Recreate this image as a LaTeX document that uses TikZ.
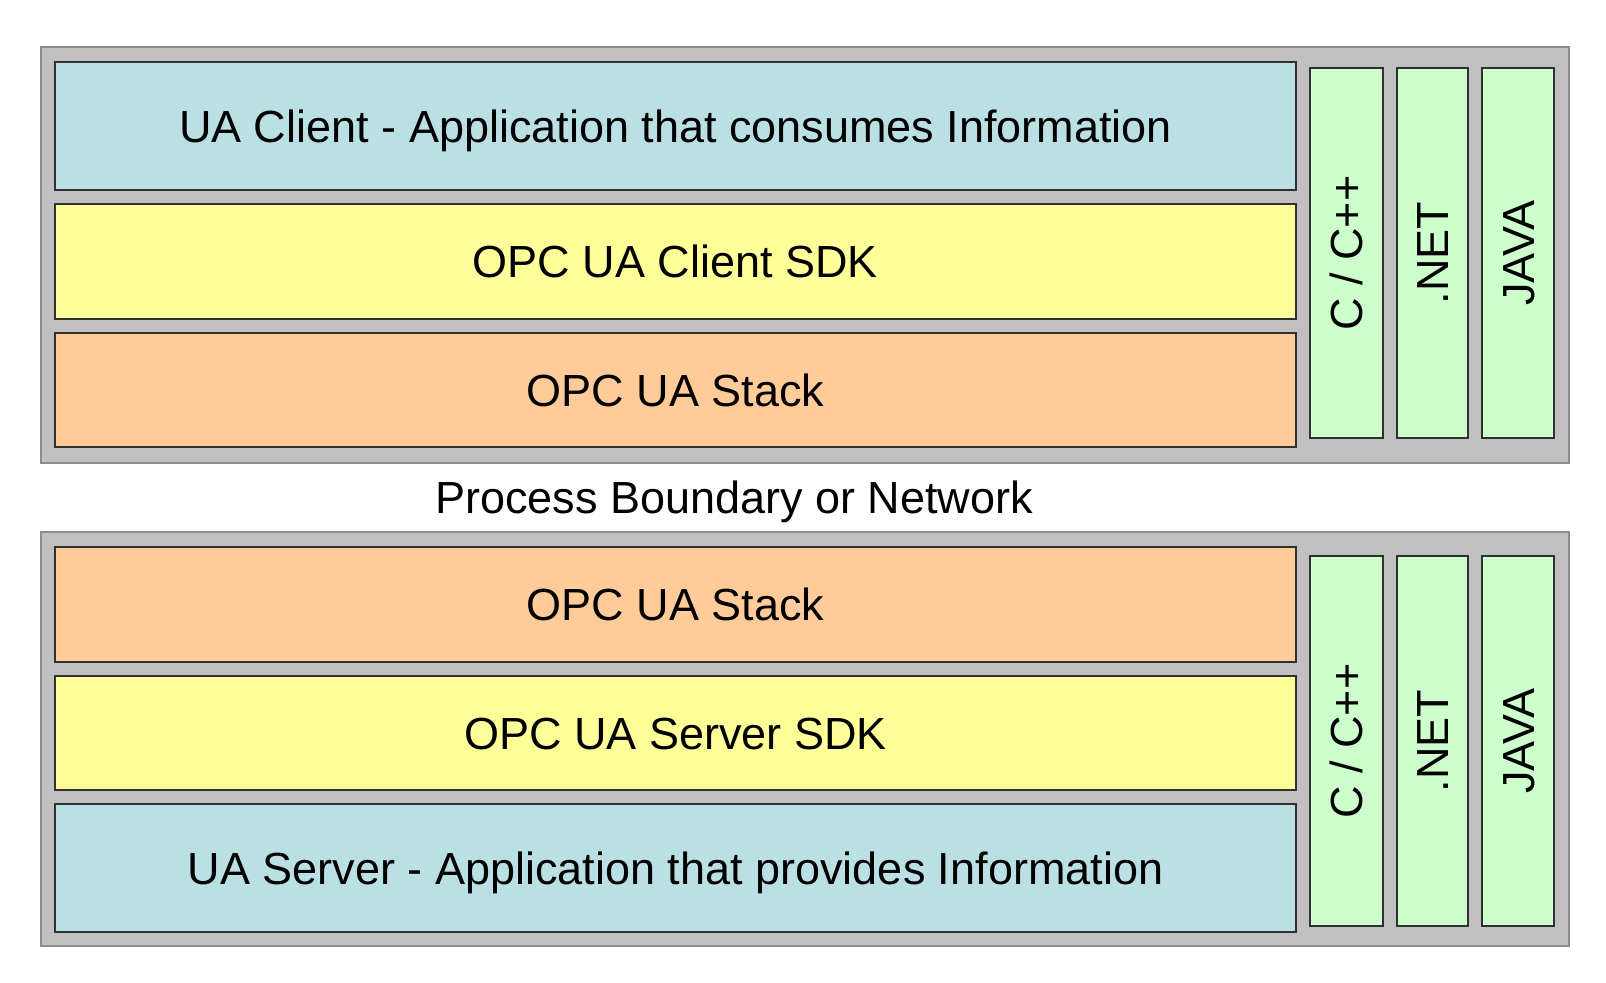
\documentclass[tikz,border=0pt]{standalone}
\usepackage{fontspec}
\setmainfont{Liberation Sans}
\definecolor{outergray}{HTML}{C0C0C0}
\definecolor{outeredge}{HTML}{8C8C8C}
\definecolor{appblue}{HTML}{BBE0E3}
\definecolor{sdkyellow}{HTML}{FFFF99}
\definecolor{stackorange}{HTML}{FFCC99}
\definecolor{langgreen}{HTML}{CCFFCC}
\definecolor{boxedge}{HTML}{303030}
\begin{document}
\begin{tikzpicture}[x=0.5pt,y=-0.5pt,
  outerbox/.style={fill=outergray,draw=outeredge,line width=1pt},
  layerbox/.style={draw=boxedge,line width=0.8pt},
  txt/.style={font=\fontsize{22.5}{27}\selectfont,inner sep=0pt,text height=16.1pt,text depth=0pt},
  vtxt/.style={txt,rotate=90}]
\useasboundingbox[fill=white] (0,0) rectangle (1606,982);
% ---- top (client) section
\draw[outerbox] (41,47) rectangle (1569,463);
\draw[layerbox,fill=appblue]     (55,62)  rectangle (1296,190);
\draw[layerbox,fill=sdkyellow]   (55,204) rectangle (1296,319);
\draw[layerbox,fill=stackorange] (55,333) rectangle (1296,447);
\draw[layerbox,fill=langgreen] (1310,68) rectangle (1383,438);
\draw[layerbox,fill=langgreen] (1397,68) rectangle (1468,438);
\draw[layerbox,fill=langgreen] (1482,68) rectangle (1554,438);
\node[txt] (uaclient) at (675.5,126) {UA Client - Application that consumes Information};
\node[txt] (clientsdk) at (675.5,261.5) {OPC UA Client SDK};
\node[txt] (stacktop) at (675.5,390) {OPC UA Stack};
\node[vtxt] (cpptop) at (1346.5,253) {C / C++};
\node[vtxt] (nettop) at (1432.5,253) {.NET};
\node[vtxt] (javatop) at (1518,253) {JAVA};
% ---- boundary
\node[txt] (boundary) at (734,497.5) {Process Boundary or Network};
% ---- bottom (server) section
\draw[outerbox] (41,532) rectangle (1569,946);
\draw[layerbox,fill=stackorange] (55,547) rectangle (1296,662);
\draw[layerbox,fill=sdkyellow]   (55,676) rectangle (1296,790);
\draw[layerbox,fill=appblue]     (55,804) rectangle (1296,932);
\draw[layerbox,fill=langgreen] (1310,556) rectangle (1383,926);
\draw[layerbox,fill=langgreen] (1397,556) rectangle (1468,926);
\draw[layerbox,fill=langgreen] (1482,556) rectangle (1554,926);
\node[txt] (stackbot) at (675.5,604.5) {OPC UA Stack};
\node[txt] (serversdk) at (675.5,733) {OPC UA Server SDK};
\node[txt] (uaserver) at (675.5,868) {UA Server - Application that provides Information};
\node[vtxt] (cppbot) at (1346.5,741) {C / C++};
\node[vtxt] (netbot) at (1432.5,741) {.NET};
\node[vtxt] (javabot) at (1518,741) {JAVA};
\end{tikzpicture}
\end{document}
